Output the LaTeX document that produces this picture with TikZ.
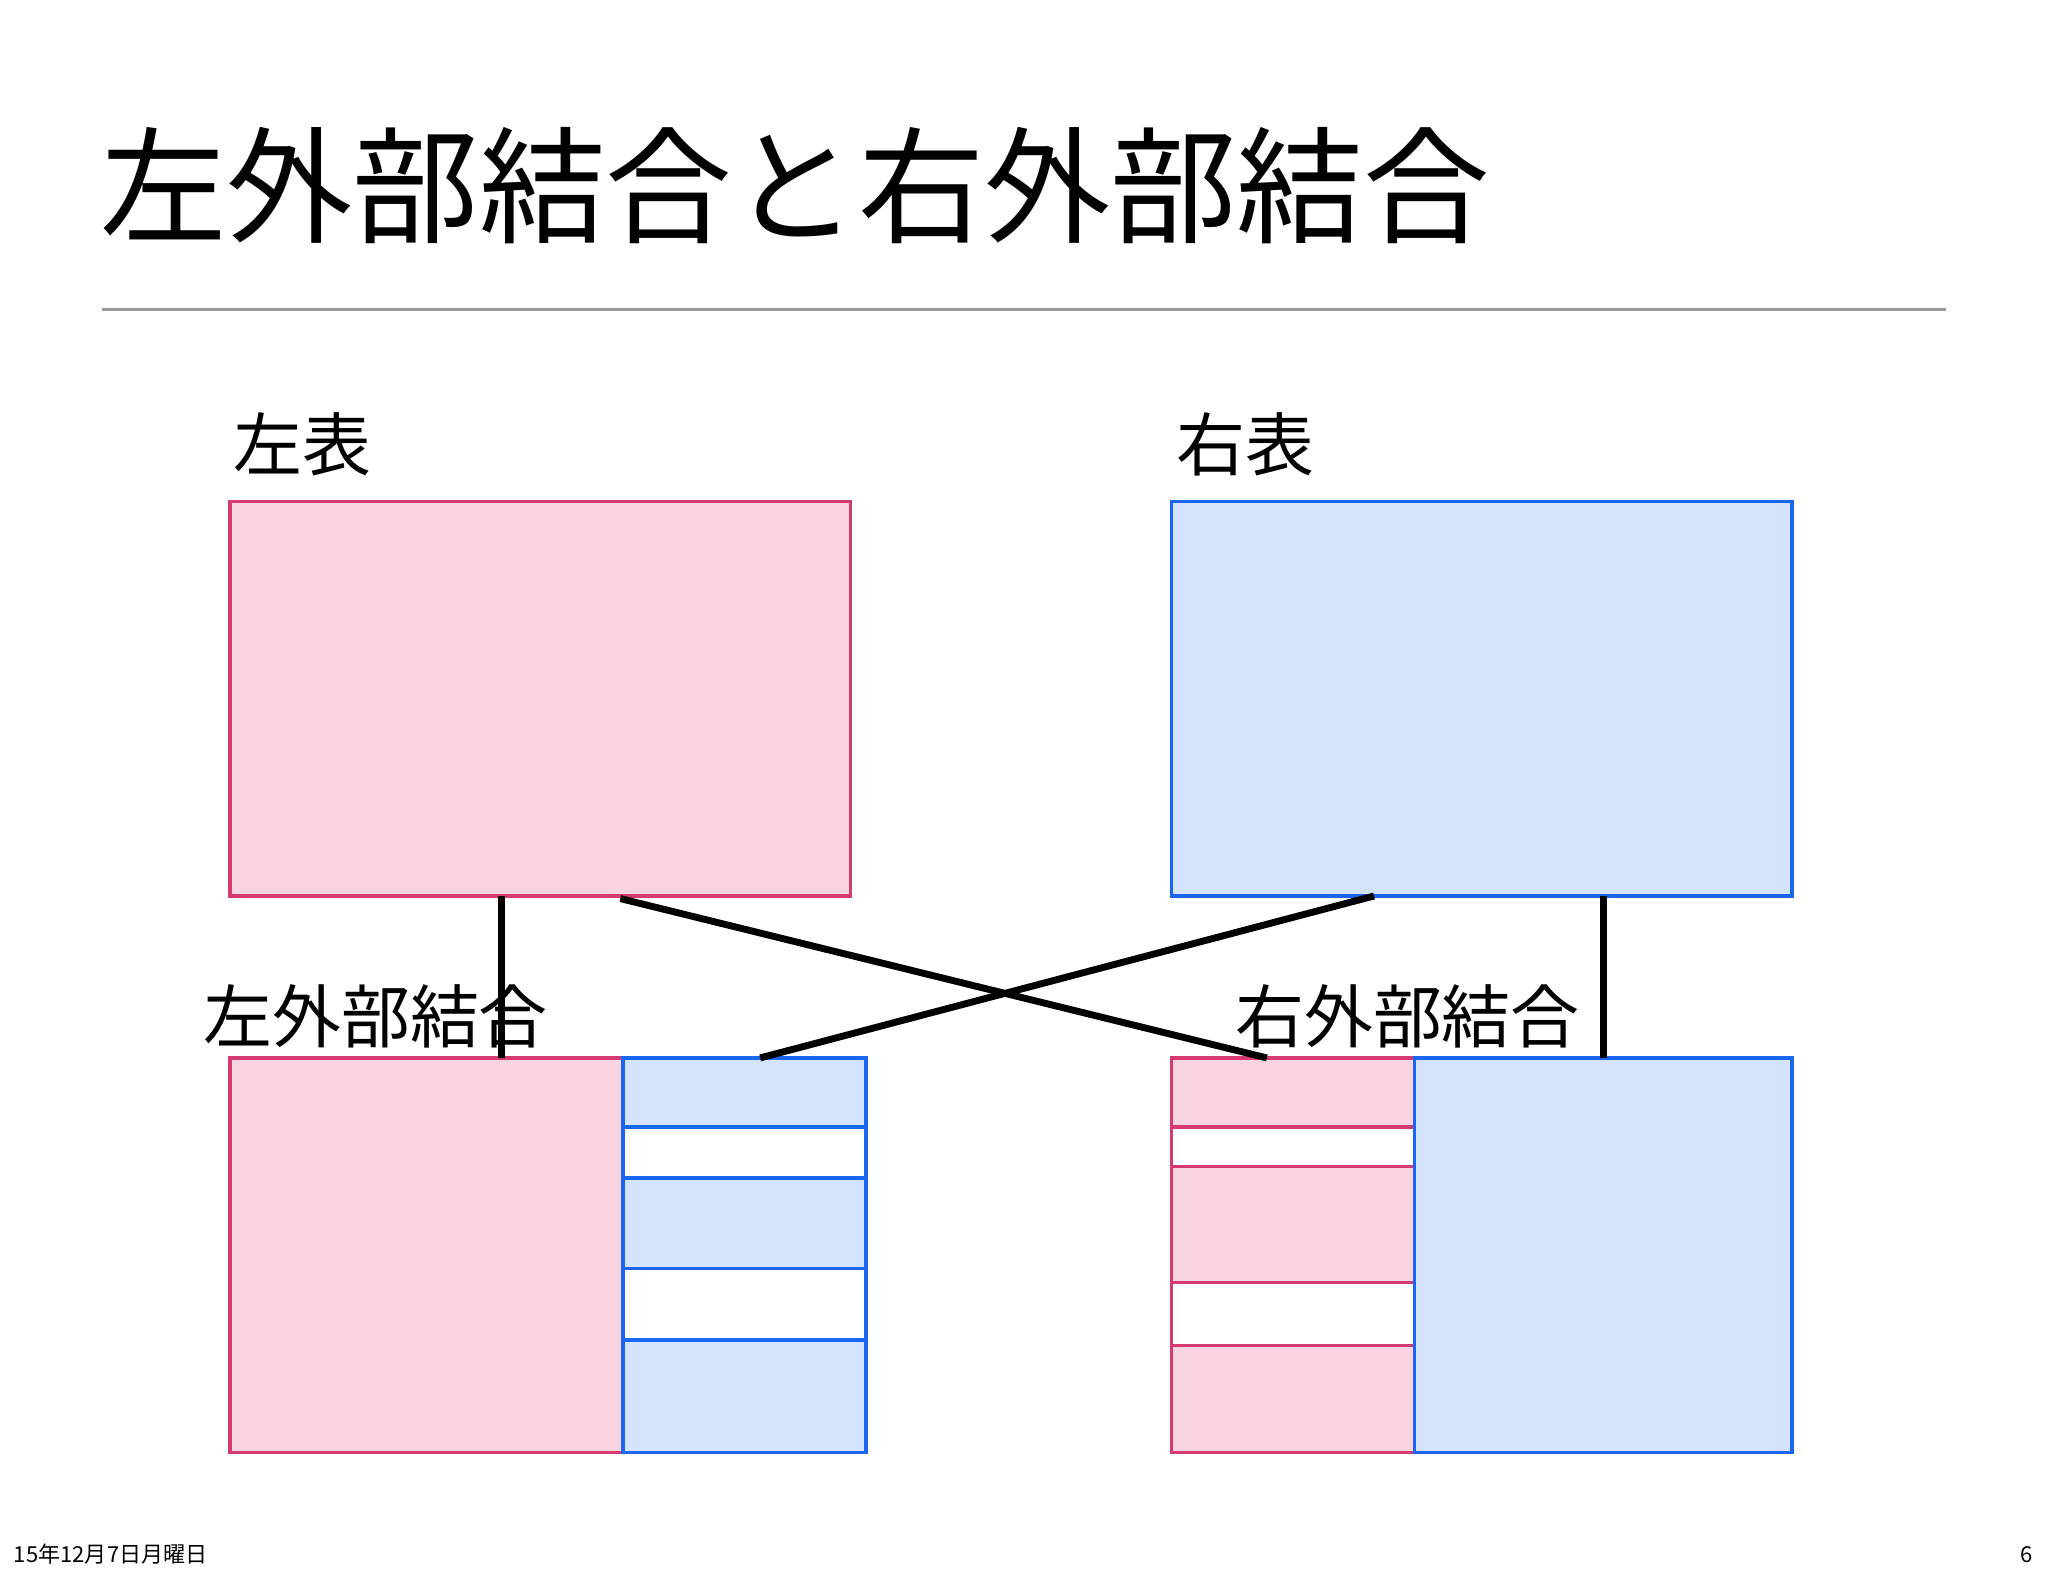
\documentclass[tikz,border=0pt]{standalone}
\usepackage{fontspec}
\setmainfont{Noto Sans CJK JP}
\definecolor{pinkf}{HTML}{F7D4E0}
\definecolor{pinkd}{HTML}{D63A72}
\definecolor{bluef}{HTML}{D3E3FC}
\definecolor{blued}{HTML}{1A66F0}
\begin{document}
\begin{tikzpicture}[x=0.01cm,y=-0.01cm,
  pinkbox/.style={fill=pinkf,draw=pinkd,line width=0.75pt},
  bluebox/.style={fill=bluef,draw=blued,line width=0.75pt},
  whiterow/.style={fill=white},
  conn/.style={line width=1.5pt,black},
  lbl/.style={anchor=west,inner sep=0pt,font=\fontsize{15}{15}\selectfont}]
\useasboundingbox (0,0) rectangle (1568,1207);
\node[anchor=west,inner sep=0pt,font=\fontsize{27.5}{28}\selectfont] (title) at (76,142) {左外部結合と右外部結合};
\draw[gray!80,line width=0.5pt] (78,237) -- (1490,237);
\node[lbl] (ll) at (178,340) {左表};
\node[lbl] (rl) at (900,340) {右表};
\draw[pinkbox] (176,384) rectangle (651,686);
\draw[bluebox] (897,384) rectangle (1372,686);
% bottom left
\draw[pinkbox] (176,810) rectangle (477,1112);
\draw[bluebox] (477,810) rectangle (663,1112);
\draw[bluebox,whiterow] (477,863) rectangle (663,902);
\draw[bluebox,whiterow] (477,971) rectangle (663,1026);
% bottom right
\draw[pinkbox] (897,810) rectangle (1083,1112);
\draw[pinkbox,whiterow] (897,863) rectangle (1083,893);
\draw[pinkbox,whiterow] (897,982) rectangle (1083,1030);
\draw[bluebox] (1083,810) rectangle (1372,1112);
\node[lbl] (lo) at (155,778) {左外部結合};
\node[lbl] (ro) at (945,778) {右外部結合};
\coordinate (a1) at (384,686); \coordinate (a2) at (384,810);
\coordinate (b1) at (475,688); \coordinate (b2) at (970,810);
\coordinate (c1) at (1052,686); \coordinate (c2) at (582,810);
\coordinate (d1) at (1228,686); \coordinate (d2) at (1228,810);
\draw[conn] (a1) -- (a2);
\draw[conn] (b1) -- (b2);
\draw[conn] (c1) -- (c2);
\draw[conn] (d1) -- (d2);
\node[anchor=west,inner sep=0pt,font=\fontsize{4.8}{5}\selectfont] (date) at (10,1190) {15年12月7日月曜日};
\node[anchor=east,inner sep=0pt,font=\fontsize{4.8}{5}\selectfont] (pg) at (1557,1190) {6};
\end{tikzpicture}
\end{document}
